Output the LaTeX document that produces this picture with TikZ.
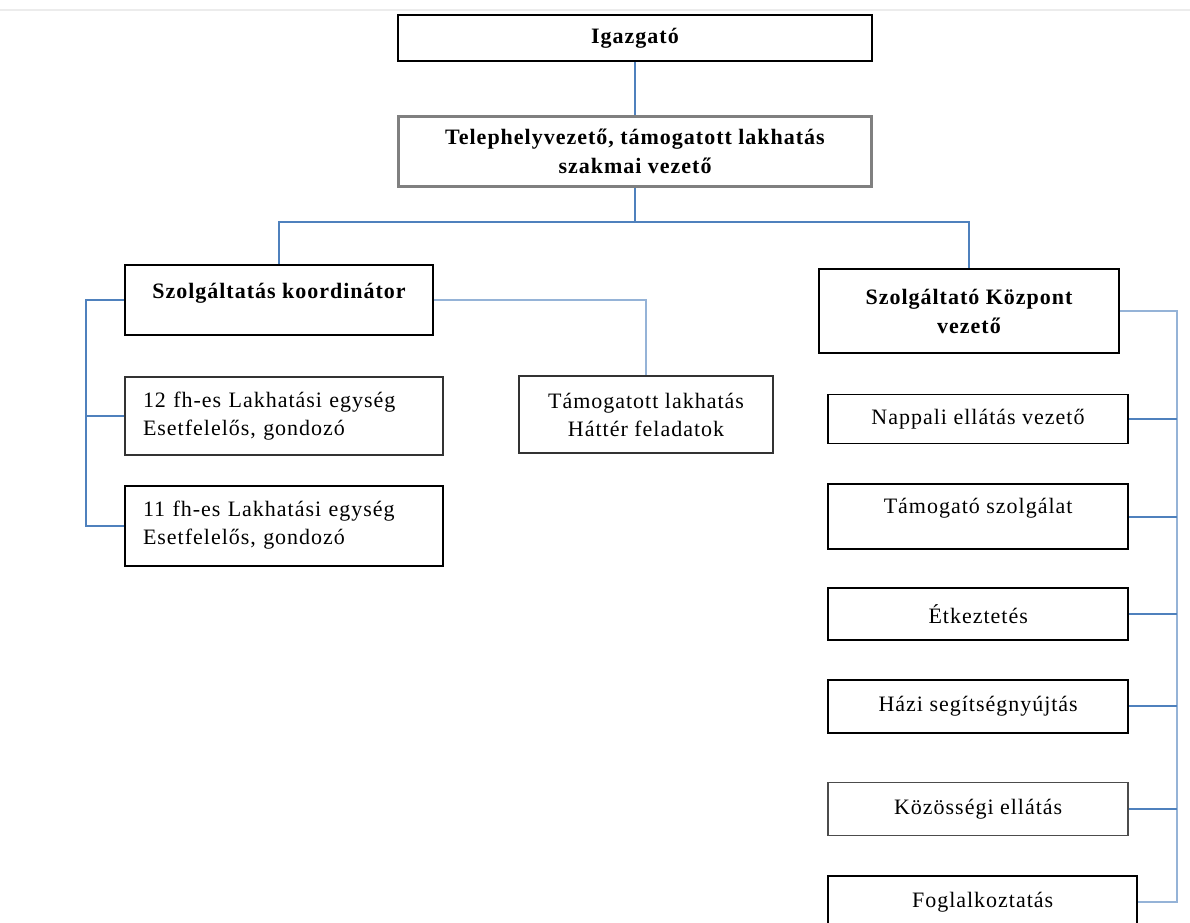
\documentclass[tikz,border=0pt]{standalone}
\usepackage{fontspec}
\setmainfont{Liberation Serif}[LetterSpace=4.5]
\usepackage{tikz}
\usetikzlibrary{positioning,calc}
\definecolor{linkblue}{RGB}{79,129,189}
\definecolor{linklight}{RGB}{149,179,215}

\begin{document}
\begin{tikzpicture}[x=1pt, y=-1pt, node distance=38pt]
\tikzstyle{box}=[rectangle,draw=black,line width=1.8pt,fill=white,inner sep=0pt,align=center,font=\fontsize{22}{28}\selectfont]
\tikzstyle{head}=[box,font=\fontsize{22}{29}\selectfont\bfseries]
\tikzstyle{unit}=[box,minimum width=300pt,minimum height=52pt]
\tikzstyle{link}=[draw=linkblue,line width=2pt]
\tikzstyle{linklt}=[draw=linklight,line width=2pt]
\useasboundingbox (0,0) rectangle (1190,922);
\draw[gray!15,line width=2pt] (0,10) -- (1190,10);
%
\node[head,line width=1.5pt,minimum width=474pt,minimum height=46pt] (ig) at (635,38) {Igazgató};
\node[head,draw=gray,line width=3pt,minimum width=473pt,minimum height=70pt] (tv)[below=53pt of ig] {Telephelyvezető, támogatott lakhatás\\szakmai vezető};
\node[head,minimum width=308pt,minimum height=70pt,text depth=19pt] (kor) at (279,300) {Szolgáltatás koordinátor};
\node[head,line width=2.4pt,minimum width=300pt,minimum height=84pt] (szk) at (969,311) {Szolgáltató Központ\\vezető};
%
\node[box,draw=black!80,minimum width=318pt,minimum height=78pt,text width=282pt,align=left] (l12)[below=40pt of kor.south west,anchor=north west] {12 fh-es Lakhatási egység\\Esetfelelős, gondozó};
\node[box,minimum width=318pt,minimum height=80pt,text width=282pt,align=left] (l11)[below=29pt of l12.south west,anchor=north west] {11 fh-es Lakhatási egység\\Esetfelelős, gondozó};
\node[box,draw=black!80,minimum width=254pt,minimum height=77pt] (tam) at (646,414.5) {Támogatott lakhatás\\Háttér feladatok};
%
\node[unit,line width=1.5pt,minimum height=49pt] (nap) at (978,419) {Nappali ellátás vezető};
\node[unit,minimum height=65pt,text depth=21pt] (tsz)[below=39pt of nap.south west,anchor=north west] {Támogató szolgálat};
\node[unit] (etk)[below=37pt of tsz.south west,anchor=north west] {Étkeztetés};
\node[unit,minimum height=53pt] (hazi)[below=38pt of etk.south west,anchor=north west] {Házi segítségnyújtás};
\node[unit,draw=black!70,minimum height=53pt] (koz)[below=48pt of hazi.south west,anchor=north west] {Közösségi ellátás};
\node[unit,minimum width=309pt] (fog)[below=39pt of koz.south west,anchor=north west] {Foglalkoztatás};
%
\coordinate (bus) at (636,222);
\coordinate (lx) at (86,0);
\coordinate (rx) at (1177,0);
%
\draw[link] (ig) -- (tv);
\draw[link] (tv) -- (tv |- bus);
\draw[link] (kor) |- (bus) -| (szk);
%
\draw[link] (kor) -| (lx |- l11) -- (l11);
\draw[link] (l12) -- (lx |- l12);
\draw[linklt] (kor) -| (tam);
%
\draw[linklt] (szk) -| (rx |- fog) -- (fog);
\draw[link] (nap) -- (rx |- nap);
\draw[link] (tsz) -- (rx |- tsz);
\draw[link] (etk) -- (rx |- etk);
\draw[link] (hazi) -- (rx |- hazi);
\draw[link] (koz) -- (rx |- koz);
\end{tikzpicture}
\end{document}
